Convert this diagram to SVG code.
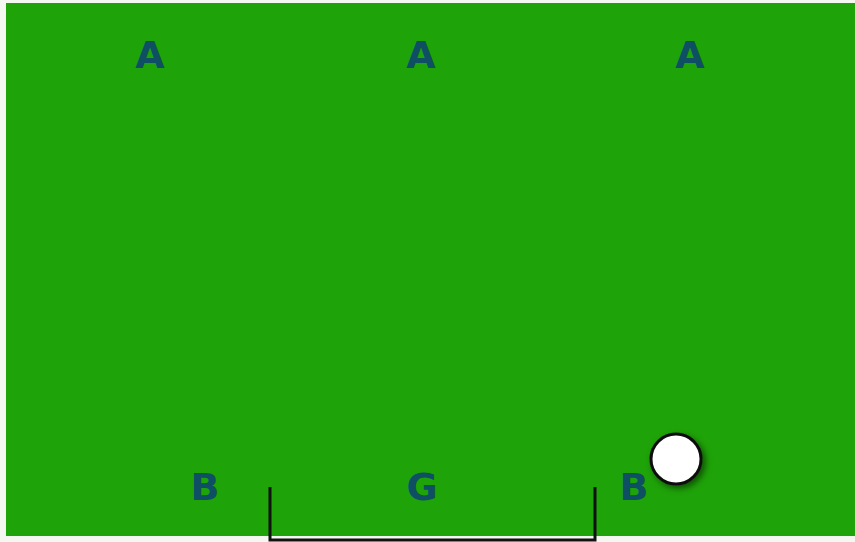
<svg xmlns="http://www.w3.org/2000/svg" width="855" height="542" viewBox="0 0 855 542">
<style>
.lbl{font-family:"DejaVu Sans","Liberation Sans",sans-serif;font-weight:bold;font-size:38px;fill:#0e4f63;text-anchor:middle}
.goal{stroke:#111;stroke-width:3;fill:none}
</style>
<defs>
<filter id="sh" x="-50%" y="-50%" width="200%" height="200%">
<feDropShadow dx="3" dy="3" stdDeviation="3" flood-color="#000" flood-opacity="0.5"/>
</filter>
</defs>
<rect width="855" height="542" fill="#f4f8f0"/>
<rect x="6" y="3" width="849" height="533" fill="#1ea308"/>
<g id="labels">
<text class="lbl" x="150" y="68">A</text>
<text class="lbl" x="421" y="68">A</text>
<text class="lbl" x="690" y="68">A</text>
<text class="lbl" x="205" y="500">B</text>
<text class="lbl" x="422" y="500">G</text>
<text class="lbl" x="634" y="500">B</text>
</g>
<g id="goal">
<path class="goal" d="M270 487 V540 H595 V487"/>
</g>
<g id="ball">
<circle cx="676" cy="459" r="25" fill="#fff" stroke="#111" stroke-width="3" filter="url(#sh)"/>
</g>
</svg>
